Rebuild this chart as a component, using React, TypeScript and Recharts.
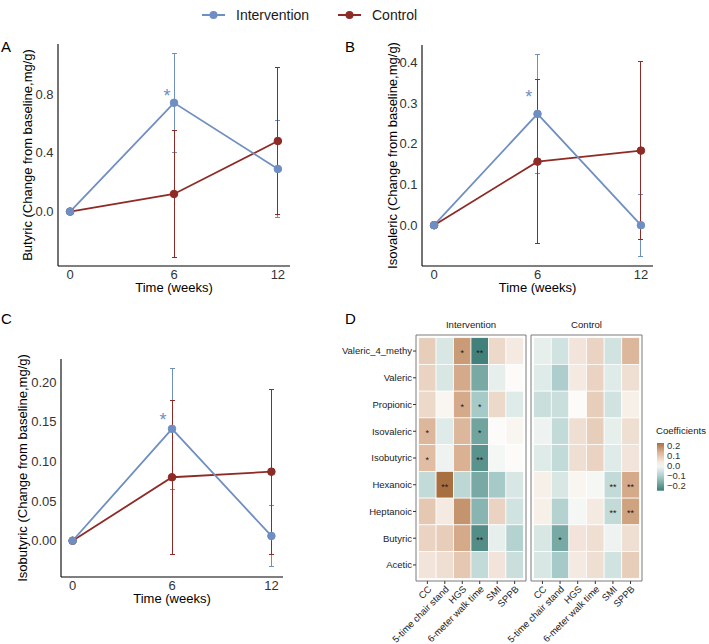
import React from "react";
import {
  ErrorBar,
  Line,
  LineChart,
  ReferenceArea,
  ReferenceDot,
  Scatter,
  ScatterChart,
  XAxis,
  YAxis,
} from "recharts";

const FONT = "'Liberation Sans', Arial, Helvetica, sans-serif";
const BLUE = "#6f8fc2";
const RED = "#8e2b27";

// ---- time course data (change from baseline, mg/g) ----
const weeks = [0, 6, 12];

const butyricIntervention = [0, 0.74, 0.29];
const butyricInterventionSd = [0, 0.335, 0.33];
const butyricControl = [0, 0.12, 0.48];
const butyricControlSd = [0, 0.43, 0.5];

const isovalericIntervention = [0, 0.273, 0.0];
const isovalericInterventionSd = [0, 0.145, 0.076];
const isovalericControl = [0, 0.156, 0.183];
const isovalericControlSd = [0, 0.201, 0.218];

const isobutyricIntervention = [0, 0.141, 0.006];
const isobutyricInterventionSd = [0, 0.076, 0.039];
const isobutyricControl = [0, 0.08, 0.087];
const isobutyricControlSd = [0, 0.097, 0.104];

// significance marks (week, value)
const butyricStar = [5.6, 0.815];
const isovalericStar = [5.5, 0.324];
const isobutyricStar = [5.45, 0.157];

// ---- correlation heatmap ----
const acids = [
  "Valeric_4_methy",
  "Valeric",
  "Propionic",
  "Isovaleric",
  "Isobutyric",
  "Hexanoic",
  "Heptanoic",
  "Butyric",
  "Acetic",
];
const measures = ["CC", "5-time chair stand", "HGS", "6-meter walk time", "SMI", "SPPB"];

const interventionCoef = [
  [0.08, -0.05, 0.16, -0.25, 0.06, 0.03],
  [0.07, -0.05, 0.14, -0.18, -0.03, 0.0],
  [0.06, 0.01, 0.14, -0.12, 0.06, -0.04],
  [0.12, -0.04, 0.12, -0.19, 0.0, 0.01],
  [0.11, -0.02, 0.13, -0.22, -0.01, 0.0],
  [-0.08, 0.22, -0.09, -0.18, -0.12, -0.05],
  [0.09, 0.03, 0.17, -0.16, 0.07, -0.06],
  [0.07, 0.08, 0.14, -0.23, -0.03, -0.1],
  [0.04, 0.05, 0.09, -0.08, 0.04, -0.07],
];
const interventionSig = [
  ["", "", "*", "**", "", ""],
  ["", "", "", "", "", ""],
  ["", "", "*", "*", "", ""],
  ["*", "", "", "*", "", ""],
  ["*", "", "", "**", "", ""],
  ["", "**", "", "", "", ""],
  ["", "", "", "", "", ""],
  ["", "", "", "**", "", ""],
  ["", "", "", "", "", ""],
];

const controlCoef = [
  [-0.03, -0.06, 0.04, 0.07, -0.06, 0.12],
  [-0.04, -0.11, 0.03, 0.07, -0.04, 0.05],
  [-0.07, -0.07, 0.0, 0.08, -0.06, 0.02],
  [-0.02, -0.08, 0.05, 0.08, -0.03, 0.05],
  [-0.04, -0.08, 0.05, 0.07, -0.04, 0.04],
  [0.02, -0.05, 0.01, -0.01, -0.08, 0.14],
  [0.02, -0.1, -0.01, 0.03, -0.08, 0.15],
  [-0.05, -0.18, 0.04, 0.05, -0.02, 0.05],
  [-0.05, -0.12, 0.03, 0.05, -0.06, 0.08],
];
const controlSig = [
  ["", "", "", "", "", ""],
  ["", "", "", "", "", ""],
  ["", "", "", "", "", ""],
  ["", "", "", "", "", ""],
  ["", "", "", "", "", ""],
  ["", "", "", "", "**", "**"],
  ["", "", "", "", "**", "**"],
  ["", "*", "", "", "", ""],
  ["", "", "", "", "", ""],
];

const legendTicks = [0.2, 0.1, 0.0, -0.1, -0.2];
const COEF_MAX = 0.22;
const COEF_MIN = -0.257;

// diverging teal - white - brown scale
const colorStops: [number, number[]][] = [
  [-1, [61, 125, 119]],
  [-0.5, [160, 199, 196]],
  [0, [252, 251, 249]],
  [0.5, [219, 178, 148]],
  [1, [148, 86, 31]],
];

function coefColor(v: number) {
  const span = Math.max(Math.abs(COEF_MIN), Math.abs(COEF_MAX));
  const t = Math.max(-1, Math.min(1, v / span));
  for (let i = 0; i < colorStops.length - 1; i++) {
    const [a, ca] = colorStops[i];
    const [b, cb] = colorStops[i + 1];
    if (t >= a && t <= b) {
      const k = (t - a) / (b - a);
      const c = ca.map((x, j) => Math.round(x + (cb[j] - x) * k));
      return `rgb(${c[0]},${c[1]},${c[2]})`;
    }
  }
  return "#fff";
}

const yTitle = (text: string, x: number) => (props: any) => {
  const vb = props.viewBox ?? { y: 0, height: 0 };
  const cy = vb.y + vb.height / 2;
  return (
    <text
      x={x}
      y={cy}
      transform={`rotate(-90 ${x} ${cy})`}
      textAnchor="middle"
      dominantBaseline="central"
      fontSize={13}
      fill="#000"
      fontFamily={FONT}
    >
      {text}
    </text>
  );
};

const starShape = (p: any) => (
  <text x={p.cx} y={p.cy + 10} textAnchor="middle" fontSize={18} fill={BLUE} fontFamily={FONT}>
    *
  </text>
);

interface TrendProps {
  left: number;
  top: number;
  width: number;
  height: number;
  margin: { top: number; right: number; bottom: number; left: number };
  yWidth: number;
  yDomain: [number, number];
  yTicks: number[];
  digits: number;
  title: string;
  titleX: number;
  intervention: number[];
  interventionSd: number[];
  control: number[];
  controlSd: number[];
  star: number[];
}

function TrendPanel(p: TrendProps) {
  const data = weeks.map((w, i) => ({
    week: w,
    intervention: p.intervention[i],
    interventionSd: p.interventionSd[i],
    control: p.control[i],
    controlSd: p.controlSd[i],
  }));
  return (
    <div style={{ position: "absolute", left: p.left, top: p.top }}>
      <LineChart width={p.width} height={p.height} data={data} margin={p.margin}>
        <XAxis
          type="number"
          dataKey="week"
          domain={[-0.7, 12.7]}
          allowDataOverflow
          ticks={weeks}
          tickLine={false}
          tickSize={0}
          tickMargin={4}
          axisLine={{ stroke: "#000", strokeWidth: 1.1 }}
          tick={{ fill: "#333", fontSize: 13, fontFamily: FONT }}
          height={27}
          label={{ value: "Time (weeks)", position: "insideBottom", offset: 1.5, fill: "#000", fontSize: 13, fontFamily: FONT }}
        />
        <YAxis
          type="number"
          domain={p.yDomain}
          allowDataOverflow
          ticks={p.yTicks}
          tickFormatter={(v: number) => v.toFixed(p.digits)}
          tickLine={false}
          tickSize={0}
          tickMargin={4.5}
          axisLine={{ stroke: "#000", strokeWidth: 1.1 }}
          tick={{ fill: "#333", fontSize: 13, fontFamily: FONT }}
          width={p.yWidth}
          label={yTitle(p.title, p.titleX)}
        />
        {/* error bars sit underneath the lines and points */}
        <Line dataKey="intervention" stroke="none" dot={false} activeDot={false} isAnimationActive={false}>
          <ErrorBar
            dataKey="interventionSd"
            width={2.5}
            stroke={BLUE}
            strokeWidth={1}
            shapeRendering="crispEdges"
            direction="y"
          />
        </Line>
        <Line dataKey="control" stroke="none" dot={false} activeDot={false} isAnimationActive={false}>
          <ErrorBar
            dataKey="controlSd"
            width={2.5}
            stroke={RED}
            strokeWidth={1}
            shapeRendering="crispEdges"
            direction="y"
          />
        </Line>
        <Line
          type="linear"
          dataKey="control"
          stroke={RED}
          strokeWidth={1.8}
          dot={{ r: 3.8, fill: RED, stroke: RED, strokeWidth: 1 }}
          isAnimationActive={false}
        />
        <Line
          type="linear"
          dataKey="intervention"
          stroke={BLUE}
          strokeWidth={1.8}
          dot={{ r: 3.8, fill: BLUE, stroke: BLUE, strokeWidth: 1 }}
          isAnimationActive={false}
        />
        <ReferenceDot x={p.star[0]} y={p.star[1]} shape={starShape} />
      </LineChart>
    </div>
  );
}

// heatmap axis domains (tiles sit inside a thin padding of the panel frame)
const X_DOMAIN: [number, number] = [-0.65, 5.65];
const Y_DOMAIN: [number, number] = [-0.6, 8.6];

// slanted measure names under the heatmap, kept on one line
const SlantTick = (t: any) => {
  const { x, y, payload } = t;
  return (
    <text
      x={x}
      y={y}
      dy="0.71em"
      transform={`rotate(-45 ${x} ${y})`}
      textAnchor="end"
      fontSize={9.5}
      fill="#222"
      fontFamily={FONT}
    >
      {measures[payload.value]}
    </text>
  );
};

interface HeatProps {
  left: number;
  top: number;
  width: number;
  height: number;
  margin: { top: number; right: number; bottom: number; left: number };
  yWidth: number;
  showRows: boolean;
  coef: number[][];
  sig: string[][];
}

function HeatPanel(p: HeatProps) {
  const cells = acids.flatMap((acid, i) =>
    measures.map((m, j) => ({ x: j, y: i, acid, measure: m, coef: p.coef[i][j], sig: p.sig[i][j] }))
  );
  const plotW = p.width - p.margin.left - p.margin.right - (p.showRows ? p.yWidth : 0);
  const plotH = p.height - p.margin.top - p.margin.bottom - 63;
  const cellW = plotW / (X_DOMAIN[1] - X_DOMAIN[0]);
  const cellH = plotH / (Y_DOMAIN[1] - Y_DOMAIN[0]);

  const tile = (s: any) => {
    const { cx, cy, payload } = s;
    return (
      <g>
        <rect
          x={cx - cellW / 2}
          y={cy - cellH / 2}
          width={cellW}
          height={cellH}
          fill={coefColor(payload.coef)}
          stroke="#fff"
          strokeWidth={0.7}
        />
        {payload.sig ? (
          <text x={cx} y={cy + 5} textAnchor="middle" fontSize={9} fill="#1a1a1a" fontFamily={FONT}>
            {payload.sig}
          </text>
        ) : null}
      </g>
    );
  };

  return (
    <div style={{ position: "absolute", left: p.left, top: p.top }}>
      <ScatterChart width={p.width} height={p.height} margin={p.margin}>
        <XAxis
          type="number"
          dataKey="x"
          domain={X_DOMAIN}
          allowDataOverflow
          ticks={[0, 1, 2, 3, 4, 5]}
          interval={0}
          tickSize={3}
          tickMargin={1}
          axisLine={false}
          tickLine={{ stroke: "#333" }}
          tick={SlantTick}
          height={63}
        />
        <YAxis
          type="number"
          dataKey="y"
          domain={Y_DOMAIN}
          allowDataOverflow
          reversed
          ticks={[0, 1, 2, 3, 4, 5, 6, 7, 8]}
          interval={0}
          tickFormatter={(v: number) => acids[v]}
          tickSize={3}
          tickMargin={1}
          axisLine={false}
          tickLine={{ stroke: "#333" }}
          tick={{ fill: "#222", fontSize: 9.5, fontFamily: FONT }}
          width={p.yWidth}
          hide={!p.showRows}
        />
        <Scatter data={cells} dataKey="y" shape={tile} isAnimationActive={false} />
        <ReferenceArea
          x1={X_DOMAIN[0]}
          x2={X_DOMAIN[1]}
          y1={Y_DOMAIN[0]}
          y2={Y_DOMAIN[1]}
          fill="none"
          stroke="#7a7a7a"
          strokeWidth={1}
        />
      </ScatterChart>
    </div>
  );
}

function GroupLegend() {
  const items = [
    { name: "Intervention", color: BLUE, x: 202 },
    { name: "Control", color: RED, x: 338 },
  ];
  return (
    <svg width={709} height={30} style={{ position: "absolute", left: 0, top: 0 }}>
      {items.map((it) => (
        <g key={it.name}>
          <line x1={it.x} x2={it.x + 23} y1={15} y2={15} stroke={it.color} strokeWidth={2} />
          <circle cx={it.x + 11.5} cy={15} r={4} fill={it.color} />
          <text x={it.x + 34} y={15} dominantBaseline="central" fontSize={14} fill="#1a1a1a" fontFamily={FONT}>
            {it.name}
          </text>
        </g>
      ))}
    </svg>
  );
}

function CoefLegend() {
  const top = 443;
  const pxPerUnit = 100;
  const h = (COEF_MAX - COEF_MIN) * pxPerUnit;
  const stops = [0, 0.1, 0.2, 0.3, 0.4, 0.5, 0.6, 0.7, 0.8, 0.9, 1];
  return (
    <svg width={60} height={80} style={{ position: "absolute", left: 650, top: 420 }}>
      <defs>
        <linearGradient id="coefGrad" x1="0" y1="0" x2="0" y2="1">
          {stops.map((s) => (
            <stop key={s} offset={s} stopColor={coefColor(COEF_MAX - s * (COEF_MAX - COEF_MIN))} />
          ))}
        </linearGradient>
      </defs>
      <text x={6} y={10} dominantBaseline="central" fontSize={9.6} fill="#1a1a1a" fontFamily={FONT}>
        Coefficients
      </text>
      <rect x={7} y={top - 420} width={7} height={h} fill="url(#coefGrad)" />
      {legendTicks.map((v) => (
        <text
          key={v}
          x={17}
          y={top - 420 + (COEF_MAX - v) * pxPerUnit}
          dominantBaseline="central"
          fontSize={9.5}
          fill="#333"
          fontFamily={FONT}
        >
          {v < 0 ? `\u2212${Math.abs(v).toFixed(1)}` : v.toFixed(1)}
        </text>
      ))}
    </svg>
  );
}

const letterStyle: React.CSSProperties = {
  position: "absolute",
  fontSize: 15,
  fontFamily: FONT,
  color: "#000",
  lineHeight: "15px",
};

export default function App() {
  return (
    <div
      style={{
        position: "absolute",
        left: 0,
        top: 0,
        width: 709,
        height: 644,
        background: "#fff",
        overflow: "hidden",
        fontFamily: FONT,
      }}
    >
      <GroupLegend />

      <div style={{ ...letterStyle, left: 1, top: 38.5 }}>A</div>
      <div style={{ ...letterStyle, left: 345, top: 38.5 }}>B</div>
      <div style={{ ...letterStyle, left: 1, top: 311 }}>C</div>
      <div style={{ ...letterStyle, left: 345, top: 311 }}>D</div>

      <TrendPanel
        left={0}
        top={30}
        width={300}
        height={300}
        margin={{ top: 14, right: 10, bottom: 37, left: 0 }}
        yWidth={58}
        yDomain={[-0.37, 1.14]}
        yTicks={[0, 0.4, 0.8]}
        digits={1}
        title="Butyric (Change from baseline,mg/g)"
        titleX={27}
        intervention={butyricIntervention}
        interventionSd={butyricInterventionSd}
        control={butyricControl}
        controlSd={butyricControlSd}
        star={butyricStar}
      />

      <TrendPanel
        left={350}
        top={30}
        width={310}
        height={300}
        margin={{ top: 15, right: 7, bottom: 37, left: 0 }}
        yWidth={72}
        yDomain={[-0.1, 0.442]}
        yTicks={[0, 0.1, 0.2, 0.3, 0.4]}
        digits={1}
        title="Isovaleric (Change from baseline,mg/g)"
        titleX={42.5}
        intervention={isovalericIntervention}
        interventionSd={isovalericInterventionSd}
        control={isovalericControl}
        controlSd={isovalericControlSd}
        star={isovalericStar}
      />

      <TrendPanel
        left={0}
        top={330}
        width={295}
        height={300}
        margin={{ top: 29, right: 12, bottom: 26, left: 0 }}
        yWidth={61}
        yDomain={[-0.0457, 0.229]}
        yTicks={[0, 0.05, 0.1, 0.15, 0.2]}
        digits={2}
        title="Isobutyric (Change from baseline,mg/g)"
        titleX={22}
        intervention={isobutyricIntervention}
        interventionSd={isobutyricInterventionSd}
        control={isobutyricControl}
        controlSd={isobutyricControlSd}
        star={isobutyricStar}
      />

      <div
        style={{
          position: "absolute",
          left: 416,
          width: 110,
          top: 319,
          textAlign: "center",
          fontSize: 9.6,
          color: "#1a1a1a",
        }}
      >
        Intervention
      </div>
      <div
        style={{
          position: "absolute",
          left: 531,
          width: 111,
          top: 319,
          textAlign: "center",
          fontSize: 9.6,
          color: "#1a1a1a",
        }}
      >
        Control
      </div>

      <HeatPanel
        left={340}
        top={318}
        width={188}
        height={326}
        margin={{ top: 17, right: 2, bottom: 0, left: 0 }}
        yWidth={76}
        showRows
        coef={interventionCoef}
        sig={interventionSig}
      />
      {/* wide left margin leaves room for the slanted labels */}
      <HeatPanel
        left={451}
        top={318}
        width={193}
        height={326}
        margin={{ top: 17, right: 2, bottom: 0, left: 80 }}
        yWidth={0}
        showRows={false}
        coef={controlCoef}
        sig={controlSig}
      />

      <CoefLegend />
    </div>
  );
}
